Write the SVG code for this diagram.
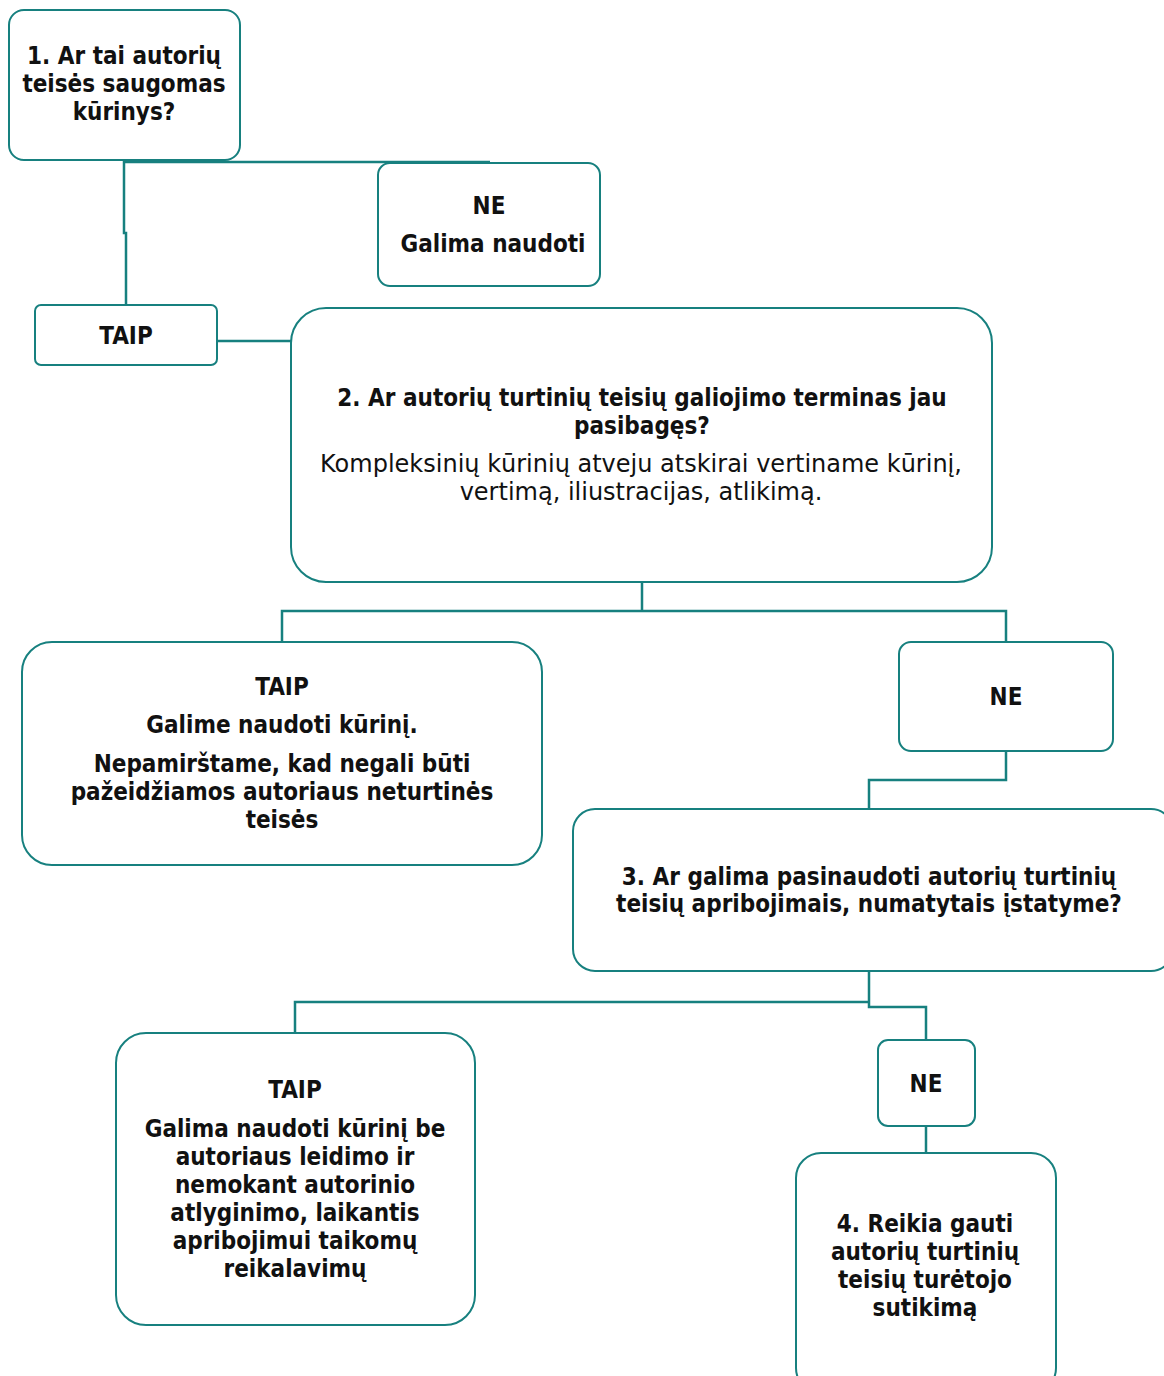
<svg xmlns="http://www.w3.org/2000/svg" width="1164" height="1376" viewBox="0 0 1164 1376">
<style>
.box{fill:#fff;stroke:#17807f;stroke-width:2}
.con{fill:none;stroke:#17807f;stroke-width:2.5}
text{font-family:"DejaVu Sans Condensed","DejaVu Sans",sans-serif;font-stretch:condensed;font-size:24px;fill:#111;text-anchor:middle;font-weight:bold}
text.n{font-family:"DejaVu Sans",sans-serif;font-stretch:normal;font-weight:normal}
</style>
<rect width="1164" height="1376" fill="#fff"/>
<g id="connectors">
<path class="con" d="M124 160 V233 H126 V305"/>
<path class="con" d="M124 162 H490"/>
<path class="con" d="M217 341 H291"/>
<path class="con" d="M642 582 V611 M282 642 V611 H1006 V642"/>
<path class="con" d="M1006 751 V780 H869 V809"/>
<path class="con" d="M869 971 V1007 H926 V1040 M869 1002 H295 V1033"/>
<path class="con" d="M926 1126 V1153"/>
</g>
<g id="n1">
<rect class="box" x="9" y="10" width="231" height="150" rx="15"/>
<text x="124" y="64">1. Ar tai autorių</text>
<text x="124" y="92">teisės saugomas</text>
<text x="124" y="120">kūrinys?</text>
</g>
<g id="ne1">
<rect class="box" x="378" y="163" width="222" height="123" rx="12"/>
<text x="489" y="214">NE</text>
<text x="493" y="252">Galima naudoti</text>
</g>
<g id="taip1">
<rect class="box" x="35" y="305" width="182" height="60" rx="6"/>
<text x="126" y="344">TAIP</text>
</g>
<g id="n2">
<rect class="box" x="291" y="308" width="701" height="274" rx="35"/>
<text x="642" y="406">2. Ar autorių turtinių teisių galiojimo terminas jau</text>
<text x="642" y="434">pasibagęs?</text>
<text class="n" x="641" y="472">Kompleksinių kūrinių atveju atskirai vertiname kūrinį,</text>
<text class="n" x="641" y="500">vertimą, iliustracijas, atlikimą.</text>
</g>
<g id="taip2">
<rect class="box" x="22" y="642" width="520" height="223" rx="30"/>
<text x="282" y="695">TAIP</text>
<text x="282" y="733">Galime naudoti kūrinį.</text>
<text x="282" y="772">Nepamirštame, kad negali būti</text>
<text x="282" y="800">pažeidžiamos autoriaus neturtinės</text>
<text x="282" y="828">teisės</text>
</g>
<g id="ne2">
<rect class="box" x="899" y="642" width="214" height="109" rx="12"/>
<text x="1006" y="705">NE</text>
</g>
<g id="n3">
<rect class="box" x="573" y="809" width="600" height="162" rx="22"/>
<text x="869" y="885">3. Ar galima pasinaudoti autorių turtinių</text>
<text x="869" y="912">teisių apribojimais, numatytais įstatyme?</text>
</g>
<g id="taip3">
<rect class="box" x="116" y="1033" width="359" height="292" rx="30"/>
<text x="295" y="1098">TAIP</text>
<text x="295" y="1137">Galima naudoti kūrinį be</text>
<text x="295" y="1165">autoriaus leidimo ir</text>
<text x="295" y="1193">nemokant autorinio</text>
<text x="295" y="1221">atlyginimo, laikantis</text>
<text x="295" y="1249">apribojimui taikomų</text>
<text x="295" y="1277">reikalavimų</text>
</g>
<g id="ne3">
<rect class="box" x="878" y="1040" width="97" height="86" rx="10"/>
<text x="926" y="1092">NE</text>
</g>
<g id="n4">
<rect class="box" x="796" y="1153" width="260" height="240" rx="25"/>
<text x="925" y="1232">4. Reikia gauti</text>
<text x="925" y="1260">autorių turtinių</text>
<text x="925" y="1288">teisių turėtojo</text>
<text x="925" y="1316">sutikimą</text>
</g>
</svg>
